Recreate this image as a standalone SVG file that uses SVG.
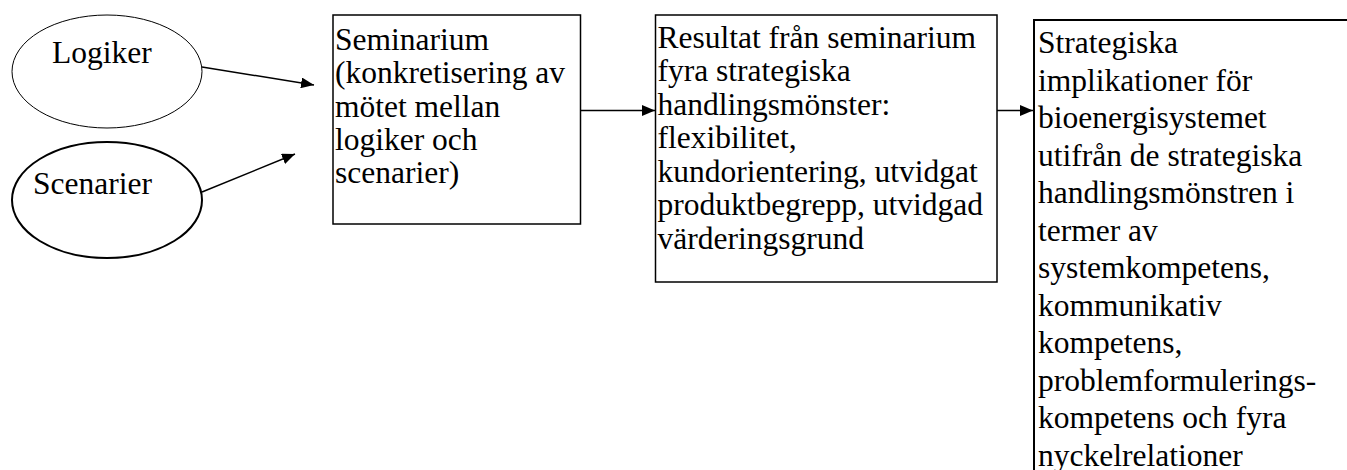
<svg xmlns="http://www.w3.org/2000/svg" width="1347" height="470" viewBox="0 0 1347 470">
  <style>
    .lbl { font-family: "Liberation Serif", "Times New Roman", serif; font-size: 31.5px; fill: #000; }
    .box { fill: #fff; stroke: #000; stroke-width: 1.5; }
    .edge { stroke: #000; stroke-width: 1.5; fill: none; }
  </style>
  <defs>
    <marker id="arrow" viewBox="0 0 13 11" refX="13" refY="5.5" markerWidth="13" markerHeight="11" markerUnits="userSpaceOnUse" orient="auto">
      <path d="M0,0 L13,5.5 L0,11 Z" fill="#000"/>
    </marker>
  </defs>
  <rect width="1347" height="470" fill="#fff"/>

  <g id="logiker">
    <ellipse cx="107" cy="71.5" rx="95" ry="56.5" fill="#fff" stroke="#000" stroke-width="1"/>
    <text class="lbl" x="52" y="63">Logiker</text>
  </g>

  <g id="scenarier">
    <ellipse cx="107" cy="200" rx="95" ry="58" fill="#fff" stroke="#000" stroke-width="2"/>
    <text class="lbl" x="33" y="194">Scenarier</text>
  </g>

  <g id="seminarium">
    <rect class="box" x="333" y="15" width="247.5" height="209"/>
    <text class="lbl">
      <tspan x="335" y="50">Seminarium</tspan>
      <tspan x="335" y="83">(konkretisering av</tspan>
      <tspan x="335" y="116.5">mötet mellan</tspan>
      <tspan x="335" y="150">logiker och</tspan>
      <tspan x="335" y="183">scenarier)</tspan>
    </text>
  </g>

  <g id="resultat">
    <rect class="box" x="655.5" y="15" width="341.5" height="267"/>
    <text class="lbl">
      <tspan x="657.5" y="47.5">Resultat från seminarium</tspan>
      <tspan x="657.5" y="81">fyra strategiska</tspan>
      <tspan x="657.5" y="114.5">handlingsmönster:</tspan>
      <tspan x="657.5" y="148">flexibilitet,</tspan>
      <tspan x="657.5" y="181.5">kundorientering, utvidgat</tspan>
      <tspan x="657.5" y="215">produktbegrepp, utvidgad</tspan>
      <tspan x="657.5" y="248.5">värderingsgrund</tspan>
    </text>
  </g>

  <g id="implikationer">
    <rect x="1034" y="20" width="330" height="470" fill="#fff" stroke="#000" stroke-width="2"/>
    <text class="lbl">
      <tspan x="1038" y="53">Strategiska</tspan>
      <tspan x="1038" y="90.5">implikationer för</tspan>
      <tspan x="1038" y="128">bioenergisystemet</tspan>
      <tspan x="1038" y="165.5">utifrån de strategiska</tspan>
      <tspan x="1038" y="203">handlingsmönstren i</tspan>
      <tspan x="1038" y="240.5">termer av</tspan>
      <tspan x="1038" y="278">systemkompetens,</tspan>
      <tspan x="1038" y="315.5">kommunikativ</tspan>
      <tspan x="1038" y="353">kompetens,</tspan>
      <tspan x="1038" y="390.5">problemformulerings-</tspan>
      <tspan x="1038" y="428">kompetens och fyra</tspan>
      <tspan x="1038" y="465.5">nyckelrelationer</tspan>
    </text>
  </g>

  <g id="connectors">
    <line class="edge" x1="202" y1="67" x2="314" y2="85" marker-end="url(#arrow)"/>
    <line class="edge" x1="202" y1="192" x2="295" y2="154" marker-end="url(#arrow)"/>
    <line class="edge" x1="580.5" y1="110.5" x2="655" y2="110.5" marker-end="url(#arrow)"/>
    <line class="edge" x1="997" y1="110.5" x2="1033" y2="110.5" marker-end="url(#arrow)"/>
  </g>
</svg>
